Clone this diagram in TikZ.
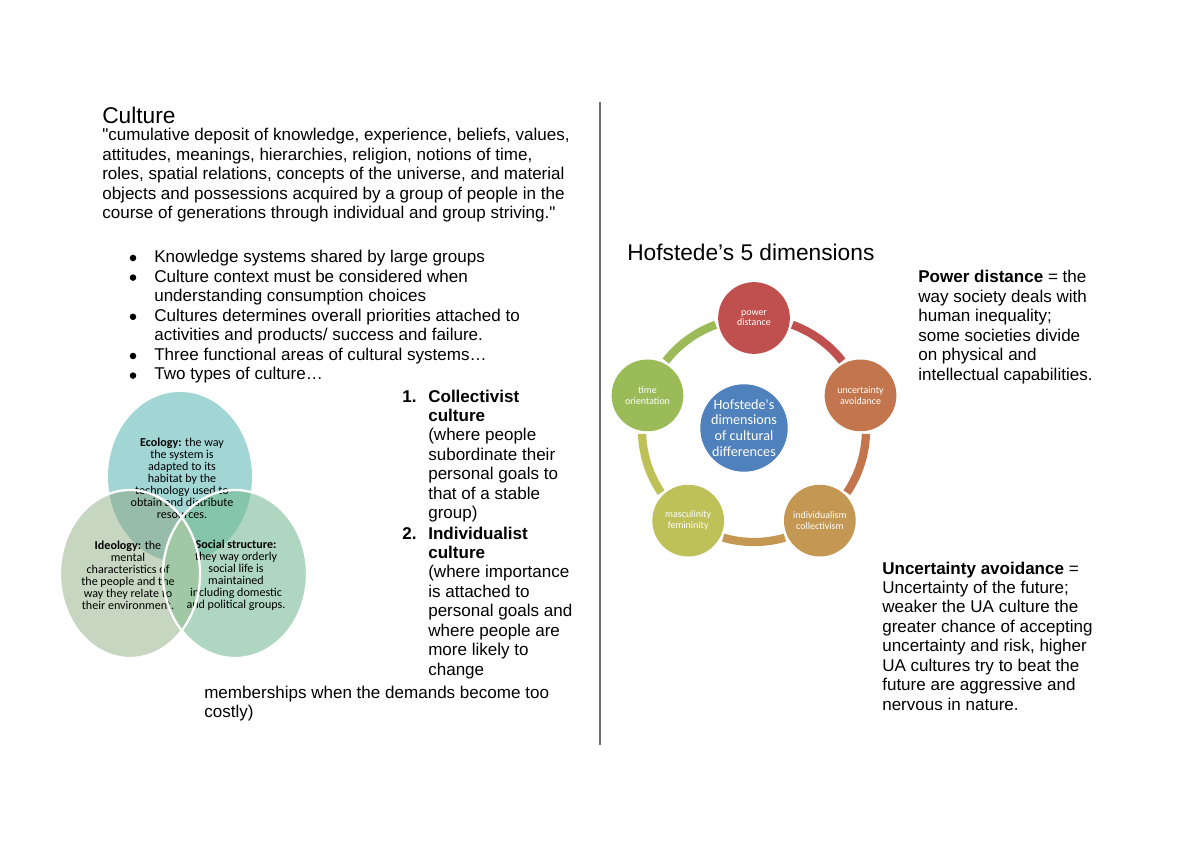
\documentclass[tikz,border=0pt]{standalone}
\usepackage{fontspec}
\setmainfont{Liberation Sans}
\newfontfamily\qfont{Liberation Sans}
\newfontfamily\calfont{Carlito}
\usetikzlibrary{calc}
\definecolor{ecoC}{RGB}{162,214,213}
\definecolor{ideC}{RGB}{198,214,192}
\definecolor{socC}{RGB}{174,214,192}
\definecolor{eiC}{RGB}{152,188,170}
\definecolor{esC}{RGB}{132,197,172}
\definecolor{isC}{RGB}{160,200,164}
\definecolor{eisC}{RGB}{138,190,156}
\definecolor{pdC}{RGB}{192,80,77}
\definecolor{uaC}{RGB}{195,118,78}
\definecolor{icC}{RGB}{196,152,82}
\definecolor{mfC}{RGB}{190,192,88}
\definecolor{toC}{RGB}{155,187,89}
\definecolor{ctC}{RGB}{79,129,189}
\definecolor{divC}{RGB}{110,110,110}
\tikzset{
  txt/.style={anchor=base west, inner sep=0pt, font=\fontsize{12}{13.7}\selectfont},
  ttl/.style={anchor=base west, inner sep=0pt, font=\fontsize{16}{18}\selectfont},
  bul/.style={circle, fill=black, inner sep=0pt, minimum size=4.6pt},
  vtxt/.style={align=center, inner sep=0pt, font=\calfont\fontsize{8.5}{8.45}\selectfont},
  hnode/.style={circle, inner sep=0pt, minimum size=50.5pt, align=center, text=white,
    font=\calfont\fontsize{7}{7.5}\selectfont},
  harc/.style={line width=5.8pt},
  vline/.style={white, line width=1.6pt}
}
\newcommand{\lines}[2]{\parbox[t]{#1}{#2}}
\newcommand{\sq}{{\qfont"}}
\begin{document}
\begin{tikzpicture}[x=0.02475cm,y=-0.02475cm]
\useasboundingbox[fill=white] (0,0) rectangle (1200,848);

% ---------- left column text ----------
\node[ttl] (title) at (102,124) {Culture};
\node[txt] (quote) at (102,141) {\lines{12cm}{\sq cumulative deposit of knowledge, experience, beliefs, values,\\
attitudes, meanings, hierarchies, religion, notions of time,\\
roles, spatial relations, concepts of the universe, and material\\
objects and possessions acquired by a group of people in the\\
course of generations through individual and group striving.\sq}};

\node[txt] (bullets) at (154,263) {\lines{12cm}{Knowledge systems shared by large groups\\
Culture context must be considered when\\
understanding consumption choices\\
Cultures determines overall priorities attached to\\
activities and products/ success and failure.\\
Three functional areas of cultural systems\dots\\
Two types of culture\dots}};
\node[bul] (b1) at (133,258) {};
\node[bul] (b2) at (133,277.6) {};
\node[bul] (b3) at (133,316.8) {};
\node[bul] (b4) at (133,356) {};
\node[bul] (b5) at (133,375.6) {};

% ---------- numbered list ----------
\node[txt, font=\fontsize{12}{13.7}\selectfont\bfseries] (n1) at (402,402) {1.};
\node[txt] (l1) at (428,402) {\lines{6cm}{\textbf{Collectivist}\\
\textbf{culture}\\
(where people\\
subordinate their\\
personal goals to\\
that of a stable\\
group)}};
\node[txt, font=\fontsize{12}{13.7}\selectfont\bfseries] (n2) at (402,539) {2.};
\node[txt] (l2) at (428,539) {\lines{6cm}{\textbf{Individualist}\\
\textbf{culture}\\
(where importance\\
is attached to\\
personal goals and\\
where people are\\
more likely to\\
change}};
\node[txt] (l3) at (204,698) {\lines{12cm}{memberships when the demands become too\\
costly)}};

% ---------- Venn diagram ----------
\coordinate (E) at (180,477);
\coordinate (I) at (130,574);
\coordinate (S) at (235,574);
\fill[ecoC] (E) ellipse [x radius=72, y radius=85];
\fill[ideC] (I) ellipse [x radius=70, y radius=84];
\fill[socC] (S) ellipse [x radius=72, y radius=84];
\begin{scope}
  \clip (E) ellipse [x radius=72, y radius=85];
  \fill[eiC] (I) ellipse [x radius=70, y radius=84];
  \fill[esC] (S) ellipse [x radius=72, y radius=84];
  \clip (I) ellipse [x radius=70, y radius=84];
  \fill[eisC] (S) ellipse [x radius=72, y radius=84];
\end{scope}
\begin{scope}
  \clip (I) ellipse [x radius=70, y radius=84];
  \clip (0,640) rectangle (400,400);
  \fill[isC] (S) ellipse [x radius=72, y radius=84];
\end{scope}
\begin{scope}
  \clip (I) ellipse [x radius=70, y radius=84];
  \clip (0,563) rectangle (400,700);
  \fill[isC] (S) ellipse [x radius=72, y radius=84];
\end{scope}
\node[vtxt] (eco) at (182,478) {\textbf{Ecology:} the way\\the system is\\adapted to its\\habitat by the\\technology used to\\obtain and distribute\\resources.};
\node[vtxt] (ideo) at (128,575) {\textbf{Ideology:} the\\mental\\characteristics of\\the people and the\\way they relate to\\their environment.};
\node[vtxt] (soc) at (236,575) {\textbf{Social structure:}\\they way orderly\\social life is\\maintained\\including domestic\\and political groups.};
\draw[vline] (S) ellipse [x radius=72, y radius=84];
\draw[vline] (I) ellipse [x radius=70, y radius=84];

% ---------- divider ----------
\coordinate (dtop) at (600,102);
\coordinate (dbot) at (600,745);
\draw[divC, line width=1.3pt] (dtop) -- (dbot);

% ---------- Hofstede ----------
\node[ttl] (htitle) at (627,261) {Hofstede’s 5 dimensions};
\coordinate (C) at (754,430);
\draw[harc, pdC] ($(C)+(-70:112)$) arc[start angle=-70, end angle=-38, radius=112];
\draw[harc, uaC] ($(C)+(2:112)$) arc[start angle=2, end angle=34, radius=112];
\draw[harc, icC] ($(C)+(74:112)$) arc[start angle=74, end angle=106, radius=112];
\draw[harc, mfC] ($(C)+(146:112)$) arc[start angle=146, end angle=178, radius=112];
\draw[harc, toC] ($(C)+(218:112)$) arc[start angle=218, end angle=250, radius=112];
\node[hnode, fill=pdC] (P) at ($(C)+(-90:112)$) {power\\distance};
\node[hnode, fill=uaC] (U) at ($(C)+(-18:112)$) {uncertainty\\avoidance};
\node[hnode, fill=icC] (IC) at ($(C)+(54:112)$) {individualism\\collectivism};
\node[hnode, fill=mfC] (M) at ($(C)+(126:112)$) {masculinity\\femininity};
\node[hnode, fill=toC] (T) at ($(C)+(198:112)$) {time\\orientation};
\node[hnode, fill=ctC, minimum size=59pt, font=\calfont\fontsize{10}{11.2}\selectfont] (H) at (744,428) {Hofstede's\\dimensions\\of cultural\\differences};

% ---------- right text ----------
\node[txt] (pd) at (918,283) {\lines{6cm}{\textbf{Power distance} = the\\
way society deals with\\
human inequality;\\
some societies divide\\
on physical and\\
intellectual capabilities.}};
\node[txt] (ua) at (882,574) {\lines{6cm}{\textbf{Uncertainty avoidance} =\\
Uncertainty of the future;\\
weaker the UA culture the\\
greater chance of accepting\\
uncertainty and risk, higher\\
UA cultures try to beat the\\
future are aggressive and\\
nervous in nature.}};
\end{tikzpicture}
\end{document}
